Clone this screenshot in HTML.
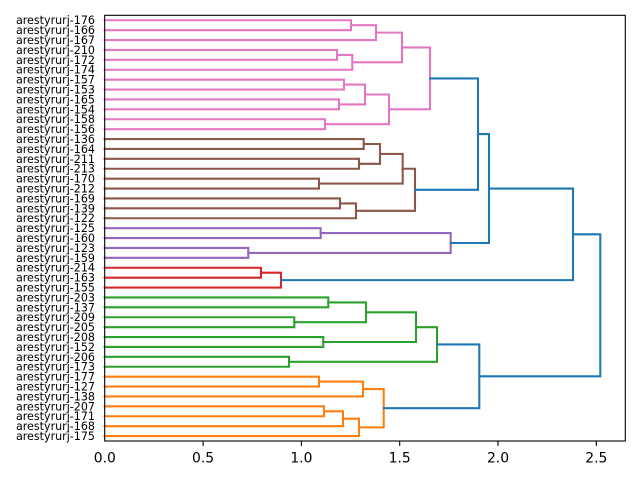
<!DOCTYPE html>
<html>
<head>
<meta charset="utf-8">
<style>
html,body{margin:0;padding:0;background:#fff;}
svg{display:block;}
text{font-family:"DejaVu Sans","Liberation Sans",sans-serif;fill:#000;}
</style>
</head>
<body>
<svg width="640" height="480" viewBox="0 0 640 480" xmlns="http://www.w3.org/2000/svg">
<rect x="0" y="0" width="640" height="480" fill="#fff"/>
<g fill="none" stroke-width="2.08" stroke-linejoin="miter" stroke-linecap="square">
<g stroke="#e377c2">
<path d="M104.7,20.25 H351 V30.15 H104.7"/>
<path d="M351,25.2 H376 V40.05 H104.7"/>
<path d="M104.7,49.95 H337 V59.85 H104.7"/>
<path d="M337,54.9 H352.3 V69.75 H104.7"/>
<path d="M376,32.625 H402 V62.325 H352.3"/>
<path d="M104.7,79.65 H344 V89.55 H104.7"/>
<path d="M104.7,99.45 H339 V109.35 H104.7"/>
<path d="M344,84.6 H365 V104.4 H339"/>
<path d="M104.7,119.25 H325 V129.15 H104.7"/>
<path d="M365,94.5 H389 V124.2 H325"/>
<path d="M402,47.475 H430 V109.35 H389"/>
</g>
<g stroke="#8c564b">
<path d="M104.7,139.05 H363.7 V148.95 H104.7"/>
<path d="M104.7,158.85 H359 V168.75 H104.7"/>
<path d="M363.7,144 H380 V163.8 H359"/>
<path d="M104.7,178.65 H319 V188.55 H104.7"/>
<path d="M380,153.9 H402.7 V183.6 H319"/>
<path d="M104.7,198.45 H340 V208.35 H104.7"/>
<path d="M340,203.4 H356 V218.25 H104.7"/>
<path d="M402.7,168.75 H415 V210.825 H356"/>
</g>
<g stroke="#9467bd">
<path d="M104.7,228.15 H320.7 V238.05 H104.7"/>
<path d="M104.7,247.95 H248.3 V257.85 H104.7"/>
<path d="M320.7,233.1 H450.7 V252.9 H248.3"/>
</g>
<g stroke="#d62728">
<path d="M104.7,267.75 H261 V277.65 H104.7"/>
<path d="M261,272.7 H281 V287.55 H104.7"/>
</g>
<g stroke="#2ca02c">
<path d="M104.7,297.45 H328.3 V307.35 H104.7"/>
<path d="M104.7,317.25 H294.3 V327.15 H104.7"/>
<path d="M328.3,302.4 H366 V322.2 H294.3"/>
<path d="M104.7,337.05 H323.3 V346.95 H104.7"/>
<path d="M366,312.3 H416 V342 H323.3"/>
<path d="M104.7,356.85 H289 V366.75 H104.7"/>
<path d="M416,327.15 H437 V361.8 H289"/>
</g>
<g stroke="#ff7f0e">
<path d="M104.7,376.65 H319 V386.55 H104.7"/>
<path d="M319,381.6 H363 V396.45 H104.7"/>
<path d="M104.7,406.35 H324 V416.25 H104.7"/>
<path d="M324,411.3 H343 V426.15 H104.7"/>
<path d="M343,418.725 H359 V436.05 H104.7"/>
<path d="M363,389.025 H383.7 V427.39 H359"/>
</g>
<g stroke="#1f77b4">
<path d="M430,78.41 H478 V189.79 H415"/>
<path d="M478,134.1 H489 V243 H450.7"/>
<path d="M489,188.55 H573 V280.125 H281"/>
<path d="M437,344.475 H479.3 V408.21 H383.7"/>
<path d="M573,234.34 H600.3 V376.34 H479.3"/>
</g>
</g>
<!-- axes frame -->
<rect x="104.7" y="15.3" width="520.6" height="425.7" fill="none" stroke="#000" stroke-width="1.1"/>
<!-- x ticks -->
<g stroke="#000" stroke-width="1.1">
<line x1="203.1" y1="441" x2="203.1" y2="445.9"/>
<line x1="301.4" y1="441" x2="301.4" y2="445.9"/>
<line x1="399.7" y1="441" x2="399.7" y2="445.9"/>
<line x1="498" y1="441" x2="498" y2="445.9"/>
<line x1="596.3" y1="441" x2="596.3" y2="445.9"/>
</g>
<g font-size="13.9" text-anchor="middle">
<text x="104.8" y="462.3">0.0</text>
<text x="203.1" y="462.3">0.5</text>
<text x="301.4" y="462.3">1.0</text>
<text x="399.7" y="462.3">1.5</text>
<text x="498" y="462.3">2.0</text>
<text x="596.3" y="462.3">2.5</text>
</g>
<!-- leaf labels -->
<g font-size="11.1" text-anchor="end">
<text x="95" y="24.2">arestyrurj-176</text>
<text x="95" y="34.1">arestyrurj-166</text>
<text x="95" y="44.0">arestyrurj-167</text>
<text x="95" y="53.9">arestyrurj-210</text>
<text x="95" y="63.8">arestyrurj-172</text>
<text x="95" y="73.7">arestyrurj-174</text>
<text x="95" y="83.6">arestyrurj-157</text>
<text x="95" y="93.5">arestyrurj-153</text>
<text x="95" y="103.4">arestyrurj-165</text>
<text x="95" y="113.3">arestyrurj-154</text>
<text x="95" y="123.2">arestyrurj-158</text>
<text x="95" y="133.1">arestyrurj-156</text>
<text x="95" y="143.0">arestyrurj-136</text>
<text x="95" y="152.9">arestyrurj-164</text>
<text x="95" y="162.8">arestyrurj-211</text>
<text x="95" y="172.7">arestyrurj-213</text>
<text x="95" y="182.6">arestyrurj-170</text>
<text x="95" y="192.5">arestyrurj-212</text>
<text x="95" y="202.4">arestyrurj-169</text>
<text x="95" y="212.3">arestyrurj-139</text>
<text x="95" y="222.2">arestyrurj-122</text>
<text x="95" y="232.1">arestyrurj-125</text>
<text x="95" y="242.0">arestyrurj-160</text>
<text x="95" y="251.9">arestyrurj-123</text>
<text x="95" y="261.8">arestyrurj-159</text>
<text x="95" y="271.7">arestyrurj-214</text>
<text x="95" y="281.6">arestyrurj-163</text>
<text x="95" y="291.5">arestyrurj-155</text>
<text x="95" y="301.4">arestyrurj-203</text>
<text x="95" y="311.3">arestyrurj-137</text>
<text x="95" y="321.2">arestyrurj-209</text>
<text x="95" y="331.1">arestyrurj-205</text>
<text x="95" y="341.0">arestyrurj-208</text>
<text x="95" y="350.9">arestyrurj-152</text>
<text x="95" y="360.8">arestyrurj-206</text>
<text x="95" y="370.7">arestyrurj-173</text>
<text x="95" y="380.6">arestyrurj-177</text>
<text x="95" y="390.5">arestyrurj-127</text>
<text x="95" y="400.4">arestyrurj-138</text>
<text x="95" y="410.3">arestyrurj-207</text>
<text x="95" y="420.2">arestyrurj-171</text>
<text x="95" y="430.1">arestyrurj-168</text>
<text x="95" y="440.0">arestyrurj-175</text>
</g>
</svg>
</body>
</html>
